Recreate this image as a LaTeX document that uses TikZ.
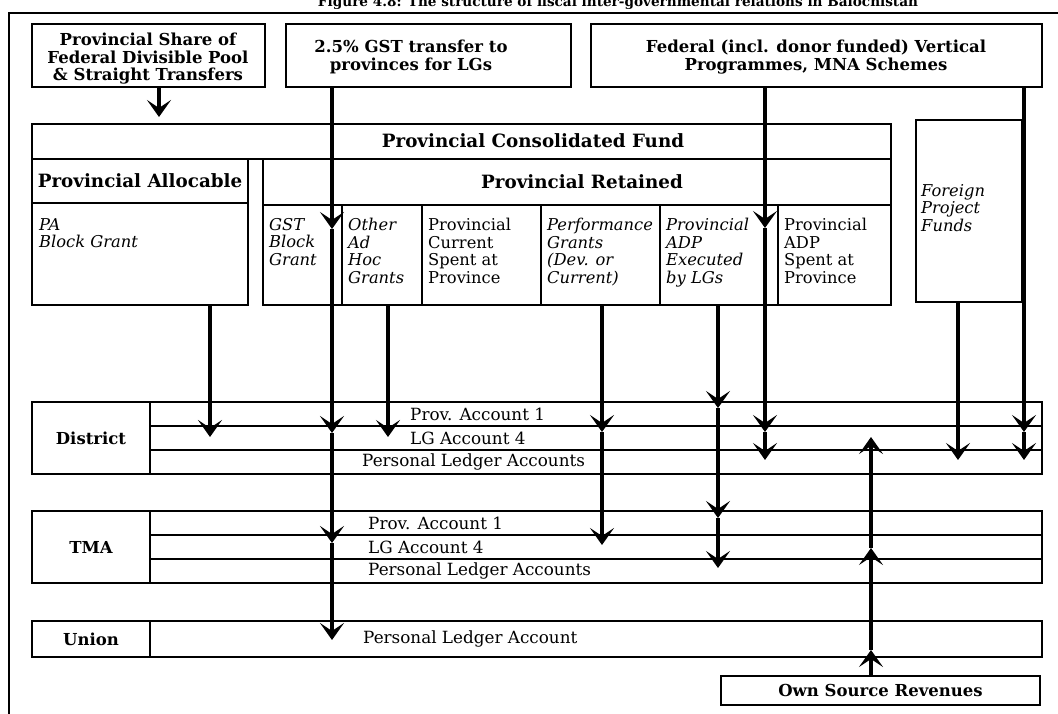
\documentclass[tikz,border=0pt]{standalone}
\usepackage{fontspec}
\setmainfont{DejaVu Serif}
\usetikzlibrary{positioning,arrows.meta,fit}
\tikzset{
  frame/.style  ={draw, line width=1.4pt, inner sep=0pt},
  head/.style   ={font=\fontsize{16.5}{17.5}\selectfont\bfseries, align=center, inner sep=0pt},
  bighead/.style={head, font=\fontsize{18.3}{19}\selectfont\bfseries},
  titletxt/.style={font=\fontsize{16.5}{17}\selectfont\bfseries, inner sep=0pt},
  cellrm/.style ={font=\fontsize{16.3}{17.6}\selectfont, align=left, anchor=north west, inner sep=0pt},
  cellit/.style ={cellrm, font=\fontsize{16.3}{17.6}\selectfont\itshape},
  acct/.style   ={font=\fontsize{16.8}{17}\selectfont, anchor=west, inner sep=0pt},
  rule/.style   ={line width=1.5pt},
  % a money flow; chains of these give the repeated heads
  flow/.style   ={line width=4pt, -{Stealth[length=17pt,width=24pt,inset=8pt]}},
  >=Stealth,
}
\newcommand{\bx}[5]{\node[frame, fit={(#2,#3)(#4,#5)}] (#1) {};}
\def\cellist{%
  gstc/263/342/cellit/{GST\\Block\\Grant},
  adhc/342/422/cellit/{Other\\Ad\\Hoc\\Grants},
  curc/422/541/cellrm/{Provincial\\Current\\Spent at\\Province},
  perc/541/660/cellit/{Performance\\Grants\\(Dev. or\\Current)},
  adpx/660/778/cellit/{Provincial\\ADP\\Executed\\by LGs},
  adps/778/891/cellrm/{Provincial\\ADP\\Spent at\\Province}}
\def\tiplist{%
  pin/159/117, pa1/210/437, ah1/388/437,
  g1/332/229, g2/332/433, g3/332/543, g4/332/640,
  pf1/602/432, pf2/602/545, ax1/718/408, ax2/718/518, ax3/718/568,
  fl1/765/228, fl2/765/432, fl3/765/460, fg1/958/460,
  fr1/1024/432, fr2/1024/460, os1/871/650, os2/871/548, os3/871/437}

\begin{document}
\begin{tikzpicture}[x=1pt, y=-1pt]
\useasboundingbox (0,0) rectangle (1058,714);
\node[titletxt, anchor=base] (title) at (618,7)
   {\resizebox{600pt}{!}{Figure 4.8: The structure of fiscal inter-governmental relations in Balochistan}};
\draw[rule] (9,714) -- (9,13) -- (1058,13);
% --- sources ---
\bx{srcpool}{32}{24}{265}{87}
\node[head] (srcpooltxt) at (148,59)
   {Provincial Share of\\Federal Divisible Pool\\\& Straight Transfers};
\bx{srcgst}{286}{24}{571}{87}
\node[head] (srcgsttxt) at (411,57) {2.5\% GST transfer to\\provinces for LGs};
\bx{srcfed}{591}{24}{1042}{87}
\node[head] (srcfedtxt) at (816,57)
   {Federal (incl. donor funded) Vertical\\Programmes, MNA Schemes};
% --- provincial fund ---
\bx{pcf}{32}{124}{891}{159}
\node[bighead] (pcftxt) at (533,141) {Provincial Consolidated Fund};
\bx{pahead}{32}{159}{248}{203}
\node[bighead] (pattl) at (pahead.center) {Provincial Allocable};
\bx{pabody}{32}{203}{248}{305}
\node[cellit] (patxt) at (39,218) {PA\\Block Grant};
\bx{prhead}{263}{159}{891}{205}
\node[bighead] (prtxt) at (582,182) {Provincial Retained};
\foreach \n/\xa/\xb/\sty/\txt in \cellist {
  \bx{\n}{\xa}{205}{\xb}{305}
  \node[\sty] (\n txt) at (\xa+6,218) {\txt};
}
\bx{foreign}{916}{120}{1022}{302}
\node[cellit] (foreigntxt) at (921,184) {Foreign\\Project\\Funds};
% --- local government accounts ---
\foreach \n/\y/\lab in {dist/402/District, tma/511/TMA} {
  \bx{\n}{32}{\y}{150}{\y+72}
  \node[head] (\n txt) at (\n.center) {\lab};
  \foreach \r in {0,1,2} {\bx{\n\r}{150}{\y+24*\r}{1042}{\y+24*\r+24}}
}
\node[acct] (dist0txt) at (410,414) {Prov. Account 1};
\node[acct] (dist1txt) at (410,438) {LG Account 4};
\node[acct] (dist2txt) at (362,462) {Personal Ledger Accounts};
\node[acct] (tma0txt) at (368,523) {Prov. Account 1};
\node[acct] (tma1txt) at (368,547) {LG Account 4};
\node[acct] (tma2txt) at (368,571) {Personal Ledger Accounts};
\bx{union}{32}{621}{150}{657}
\node[head] (uniontxt) at (union.center) {Union};
\bx{union0}{150}{621}{1042}{657}
\node[acct] (union0txt) at (363,639) {Personal Ledger Account};
\bx{osr}{721}{676}{1040}{705}
\node[head] (osrtxt) at (osr.center) {Own Source Revenues};
% --- flows ---
\foreach \n/\x/\y in \tiplist {\coordinate (\n) at (\x,\y);}
\draw[flow] (srcpool.south -| pin) -- (pin);
\draw[flow] (pabody.south -| pa1) -- (pa1);
\draw[flow] (adhc.south -| ah1) -- (ah1);
\draw[flow] (srcgst.south -| g1) -- (g1);
\foreach \a/\b in {g1/g2, g2/g3, g3/g4} {\draw[flow] (\a) -- (\b);}
\draw[flow] (perc.south -| pf1) -- (pf1);
\draw[flow] (pf1) -- (pf2);
\draw[flow] (adpx.south -| ax1) -- (ax1);
\foreach \a/\b in {ax1/ax2, ax2/ax3} {\draw[flow] (\a) -- (\b);}
\draw[flow] (srcfed.south -| fl1) -- (fl1);
\foreach \a/\b in {fl1/fl2, fl2/fl3} {\draw[flow] (\a) -- (\b);}
\draw[flow] (foreign.south -| fg1) -- (fg1);
\draw[flow] (srcfed.south -| fr1) -- (fr1);
\draw[flow] (fr1) -- (fr2);
\draw[flow] (osr.north -| os1) -- (os1);
\foreach \a/\b in {os1/os2, os2/os3} {\draw[flow] (\a) -- (\b);}
\end{tikzpicture}
\end{document}
